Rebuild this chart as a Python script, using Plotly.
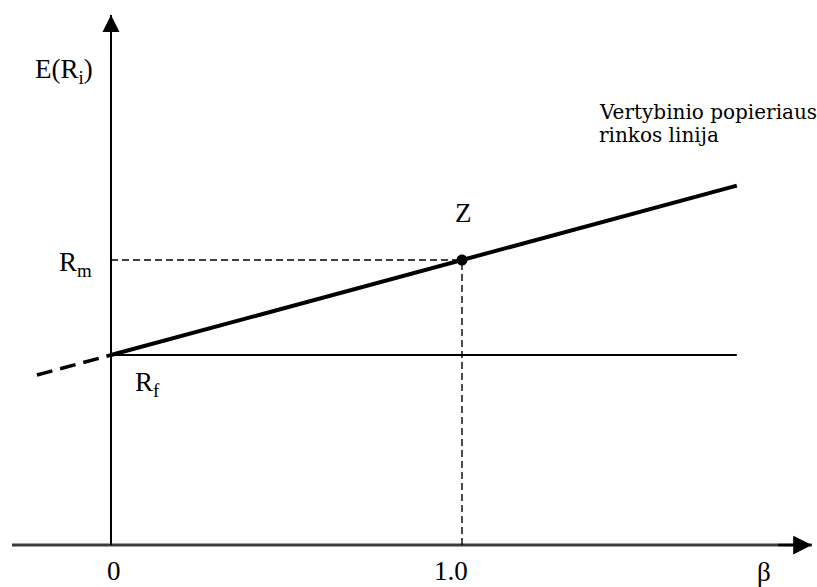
import plotly.graph_objects as go

# CAPM security market line (schematic)
rf = 2.0
rm = 3.0
beta_z = 1.0
sml_beta = [0.0, 1.783]
sml_ext_beta = [-0.211, 0.0]
tick_vals = [0.0, 1.0]
tick_text = ["0", "1.0"]

x_axis_span = [-0.282, 1.997]
y_axis_top = 5.58
x_min, x_max = -0.3162, 2.0114
y_min, y_max = -0.442, 5.737

def sml(b):
    return rf + b * (rm - rf) / beta_z

SYM = "Liberation Serif"
TXT = "DejaVu Serif"
fig = go.Figure()

# x axis line
fig.add_trace(go.Scatter(x=x_axis_span, y=[0, 0], mode="lines",
                         line=dict(color="#3c3c3c", width=3), hoverinfo="skip"))
# y axis line
fig.add_trace(go.Scatter(x=[0, 0], y=[0, y_axis_top], mode="lines",
                         line=dict(color="black", width=2), hoverinfo="skip"))
# SML dashed extension to the left
fig.add_trace(go.Scatter(x=sml_ext_beta, y=[sml(b) for b in sml_ext_beta], mode="lines",
                         line=dict(color="black", width=3.5, dash="16px,8px"), hoverinfo="skip"))
# risk free horizontal
fig.add_trace(go.Scatter(x=[0, sml_beta[1]], y=[rf, rf], mode="lines",
                         line=dict(color="black", width=1.8), hoverinfo="skip"))
# dashed guides to Z
fig.add_trace(go.Scatter(x=[0, beta_z], y=[rm, rm], mode="lines",
                         line=dict(color="black", width=1.4, dash="7px,4px"), hoverinfo="skip"))
fig.add_trace(go.Scatter(x=[beta_z, beta_z], y=[0, rm], mode="lines",
                         line=dict(color="black", width=1.4, dash="7px,4px"), hoverinfo="skip"))
# SML
fig.add_trace(go.Scatter(x=sml_beta, y=[sml(b) for b in sml_beta], mode="lines",
                         line=dict(color="black", width=4), hoverinfo="skip"))
# market point Z
fig.add_trace(go.Scatter(x=[beta_z], y=[rm], mode="markers",
                         marker=dict(color="black", size=11), hoverinfo="skip"))

# arrow heads
fig.add_annotation(x=x_axis_span[1], y=0, ax=x_axis_span[1] - 0.1, ay=0,
                   xref="x", yref="y", axref="x", ayref="y",
                   showarrow=True, arrowhead=2, arrowsize=1.5, arrowwidth=2.5, arrowcolor="black", text="")
fig.add_annotation(x=0, y=y_axis_top, ax=0, ay=y_axis_top - 0.4,
                   xref="x", yref="y", axref="x", ayref="y",
                   showarrow=True, arrowhead=2, arrowsize=1.7, arrowwidth=2, arrowcolor="black", text="")

labels = [
    (-0.1325, 4.99, "E(R<sub>i</sub>)", "center"),
    (-0.1538, 2.96, "R<sub>m</sub>", "left"),
    (0.0627, 1.70, "R<sub>f</sub>", "left"),
    (1.0057, 3.50, "Z", "center"),
    (1.860, -0.285, "β", "center"),
]
for lx, ly, t, xa in labels:
    fig.add_annotation(x=lx, y=ly, xref="x", yref="y", text=t, showarrow=False,
                       xanchor=xa, yanchor="middle",
                       font=dict(family=SYM, size=27, color="black"))

for ly, t in [(4.56, "Vertybinio popieriaus"), (4.32, "rinkos linija")]:
    fig.add_annotation(x=1.3846, y=ly, xref="x", yref="y", text=t, showarrow=False,
                       xanchor="left", yanchor="middle",
                       font=dict(family=TXT, size=20, color="black"))

for v, t, dx in zip(tick_vals, tick_text, [3, -11]):
    fig.add_annotation(x=v, y=-0.275, xref="x", yref="y", text=t, showarrow=False,
                       xshift=dx, font=dict(family=SYM, size=27, color="black"))

fig.update_layout(
    width=817, height=587,
    margin=dict(l=0, r=0, t=0, b=0),
    paper_bgcolor="white", plot_bgcolor="white",
    showlegend=False,
    xaxis=dict(range=[x_min, x_max], visible=False, fixedrange=True),
    yaxis=dict(range=[y_min, y_max], visible=False, fixedrange=True),
)
fig.write_html("out.html", config={"displayModeBar": False},
               post_script="document.body.style.margin='0';")
